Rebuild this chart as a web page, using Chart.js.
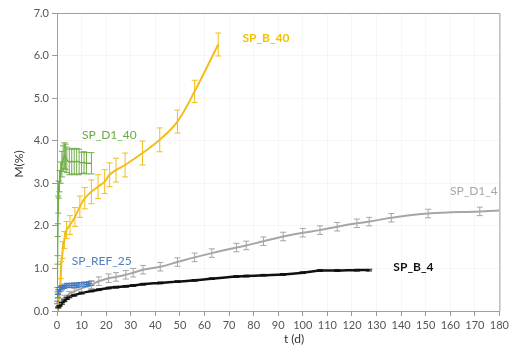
<!DOCTYPE html>
<html>
<head>
<meta charset="utf-8">
<script src="https://cdn.jsdelivr.net/npm/chart.js@4.4.1/dist/chart.umd.min.js"></script>
<style>
  html, body { margin: 0; padding: 0; background: #fff; }
  #wrap { width: 512px; height: 350px; }
</style>
</head>
<body>
<div id="wrap"><canvas id="c" width="512" height="350"></canvas></div>
<script>
// ---- Data ----
const b40T   = [0, 0.5, 1.2, 1.6, 2.3, 3, 3.9, 5.3, 7.3, 9.3, 11.3, 14, 16.7, 19.4, 21.4, 24, 27.7, 34.8, 41.8, 49, 56, 65.6];
const b40M   = [0, 0.2, 0.45, 0.96, 1.43, 1.67, 1.9, 2.02, 2.21, 2.45, 2.65, 2.8, 2.92, 3.04, 3.2, 3.31, 3.43, 3.71, 4.02, 4.45, 5.16, 6.26];
const b40Err = [0, 0.1, 0.15, 0.2, 0.2, 0.2, 0.2, 0.22, 0.22, 0.25, 0.25, 0.28, 0.28, 0.28, 0.28, 0.28, 0.28, 0.28, 0.28, 0.27, 0.26, 0.27];

const d140T   = [0, 0.1, 0.2, 0.3, 0.5, 0.7, 1, 1.5, 2, 2.5, 3, 3.5, 4, 5, 6, 7, 8, 9, 10, 11, 12, 14];
const d140M   = [0, 0.5, 1.2, 1.9, 2.5, 2.85, 3.05, 3.25, 3.45, 3.58, 3.65, 3.62, 3.55, 3.5, 3.52, 3.5, 3.52, 3.5, 3.48, 3.49, 3.47, 3.47];
const d140Err = [0, 0.05, 0.1, 0.15, 0.2, 0.2, 0.25, 0.25, 0.3, 0.3, 0.3, 0.3, 0.3, 0.3, 0.3, 0.3, 0.3, 0.3, 0.25, 0.25, 0.25, 0.25];

const ref25T   = [0, 0.1, 0.3, 0.5, 1, 1.5, 2, 3, 4, 5, 6, 7, 8, 9, 10, 11, 12, 13, 14];
const ref25M   = [0, 0.2, 0.35, 0.45, 0.5, 0.52, 0.55, 0.58, 0.6, 0.6, 0.6, 0.61, 0.6, 0.62, 0.62, 0.63, 0.62, 0.64, 0.65];
const ref25Err = [0, 0.03, 0.04, 0.05, 0.05, 0.05, 0.05, 0.05, 0.05, 0.05, 0.05, 0.05, 0.05, 0.05, 0.05, 0.05, 0.05, 0.05, 0.05];

const d14T   = [0, 1, 2, 3, 5, 7, 10, 14, 17, 21, 24, 28, 31, 35, 42, 49, 56, 63, 73, 77, 84, 92, 100, 107, 114, 122, 127, 136, 151, 172, 180];
const d14M   = [0, 0.15, 0.25, 0.32, 0.4, 0.46, 0.53, 0.62, 0.7, 0.77, 0.8, 0.85, 0.9, 0.97, 1.04, 1.15, 1.26, 1.36, 1.49, 1.54, 1.64, 1.75, 1.84, 1.9, 1.98, 2.06, 2.1, 2.19, 2.29, 2.34, 2.36];
const d14Err = [0, 0.03, 0.04, 0.05, 0.06, 0.07, 0.08, 0.09, 0.1, 0.1, 0.1, 0.1, 0.1, 0.1, 0.1, 0.1, 0.1, 0.1, 0.1, 0.1, 0.1, 0.1, 0.1, 0.1, 0.1, 0.1, 0.1, 0.1, 0.1, 0.1, 0];

const b4T   = [0, 0.5, 1, 2, 3, 4, 5, 7, 10, 14, 17, 21, 24, 28, 31, 35, 42, 49, 56, 63, 73, 77, 84, 92, 100, 107, 114, 122, 127];
const b4M   = [0, 0.08, 0.12, 0.18, 0.24, 0.29, 0.33, 0.37, 0.42, 0.47, 0.5, 0.54, 0.56, 0.58, 0.6, 0.63, 0.66, 0.69, 0.72, 0.76, 0.81, 0.82, 0.84, 0.86, 0.9, 0.95, 0.95, 0.96, 0.96];
const b4Err = [0, 0.01, 0.01, 0.02, 0.02, 0.02, 0.02, 0.02, 0.02, 0.02, 0.02, 0.02, 0.02, 0.02, 0.02, 0.02, 0.02, 0.02, 0.02, 0.02, 0.02, 0.02, 0.02, 0.02, 0.02, 0.02, 0.02, 0.02, 0.02];

const seriesNames = ['SP_B_40', 'SP_D1_40', 'SP_REF_25', 'SP_D1_4', 'SP_B_4'];
// label anchor positions in data units (t, M)
const labelT = [85, 21.3, 18.2, 169.6, 145];
const labelM = [6.42, 4.14, 1.17, 2.82, 1.04];

const xTicksMax = 180, yTicksMax = 7;

// ---- Chart ----
const FONT = 'Lato, "Liberation Sans", sans-serif';
const colors = ['#f2be1a', '#70ad47', '#3f78c4', '#a6a6a6', '#111111'];
const labelColors = ['#f5c000', '#6aaa45', '#4f80c0', '#a8a8a8', '#111111'];
const labelBold = [true, false, false, false, true];

function pts(t, m) { return t.map((v, i) => ({ x: v, y: m[i] })); }

const errs = [b40Err, d140Err, ref25Err, d14Err, b4Err];

const errorBarPlugin = {
  id: 'errbars',
  afterDatasetsDraw(chart) {
    const ctx = chart.ctx, xs = chart.scales.x, ys = chart.scales.y;
    chart.data.datasets.forEach((ds, di) => {
      const e = errs[di];
      ctx.save();
      ctx.strokeStyle = ds.borderColor;
      ctx.lineWidth = 1;
      ds.data.forEach((p, i) => {
        if (!e[i]) return;
        const x = xs.getPixelForValue(p.x);
        const y1 = ys.getPixelForValue(p.y + e[i]);
        const y2 = ys.getPixelForValue(p.y - e[i]);
        ctx.beginPath();
        ctx.moveTo(x, y1); ctx.lineTo(x, y2);
        ctx.moveTo(x - 3, y1); ctx.lineTo(x + 3, y1);
        ctx.moveTo(x - 3, y2); ctx.lineTo(x + 3, y2);
        ctx.stroke();
      });
      ctx.restore();
    });
  }
};

const decorPlugin = {
  id: 'decor',
  beforeDatasetsDraw(chart) {
    const { ctx, chartArea: a } = chart;
    ctx.save();
    ctx.strokeStyle = '#a0a0a0';
    ctx.lineWidth = 1;
    ctx.beginPath();
    ctx.moveTo(a.left, a.top + 0.5); ctx.lineTo(a.right + 0.5, a.top + 0.5);
    ctx.lineTo(a.right + 0.5, a.bottom);
    ctx.stroke();
    ctx.restore();
  },
  afterDraw(chart) {
    const { ctx } = chart, xs = chart.scales.x, ys = chart.scales.y;
    ctx.save();
    ctx.textAlign = 'center';
    ctx.textBaseline = 'middle';
    seriesNames.forEach((n, i) => {
      ctx.font = (labelBold[i] ? 'bold ' : '') + '12px ' + FONT;
      ctx.fillStyle = labelColors[i];
      ctx.fillText(n, xs.getPixelForValue(labelT[i]), ys.getPixelForValue(labelM[i]));
    });
    // axis titles
    ctx.fillStyle = '#333';
    ctx.font = '12px ' + FONT;
    ctx.fillText('t (d)', 294, 339);
    ctx.translate(19, 164);
    ctx.rotate(-Math.PI / 2);
    ctx.fillText('M(%)', 0, 0);
    ctx.restore();
  }
};

const widths = [2, 1.5, 2, 2, 2.5];
const datasets = [
  pts(b40T, b40M), pts(d140T, d140M), pts(ref25T, ref25M), pts(d14T, d14M), pts(b4T, b4M)
].map((d, i) => ({
  label: seriesNames[i],
  data: d,
  showLine: true,
  borderColor: colors[i],
  backgroundColor: colors[i],
  borderWidth: widths[i],
  pointRadius: 0,
  tension: 0.4,
  cubicInterpolationMode: (i === 1 || i === 2) ? 'monotone' : 'default'
}));

new Chart(document.getElementById('c'), {
  type: 'scatter',
  data: { datasets },
  options: {
    responsive: false,
    animation: false,
    layout: { padding: { left: 0, right: 9, top: 13, bottom: 0 } },
    plugins: { legend: { display: false }, tooltip: { enabled: false } },
    scales: {
      x: {
        type: 'linear', min: 0, max: xTicksMax,
        afterFit(s) { s.height = 39; },
        ticks: { stepSize: 10, color: '#555', font: { family: FONT, size: 11 }, padding: 3, maxRotation: 0, autoSkip: false },
        grid: { color: 'rgba(0,0,0,0.035)', tickColor: '#9a9a9a', tickLength: 5 },
        border: { color: '#a0a0a0' }
      },
      y: {
        type: 'linear', min: 0, max: yTicksMax,
        afterFit(s) { s.width = 57; },
        ticks: { stepSize: 1, color: '#555', font: { family: FONT, size: 11 }, padding: 3,
                 callback: v => Number(v).toFixed(1) },
        grid: { color: 'rgba(0,0,0,0.035)', tickColor: '#9a9a9a', tickLength: 5 },
        border: { color: '#a0a0a0' }
      }
    }
  },
  plugins: [errorBarPlugin, decorPlugin]
});
</script>
</body>
</html>
